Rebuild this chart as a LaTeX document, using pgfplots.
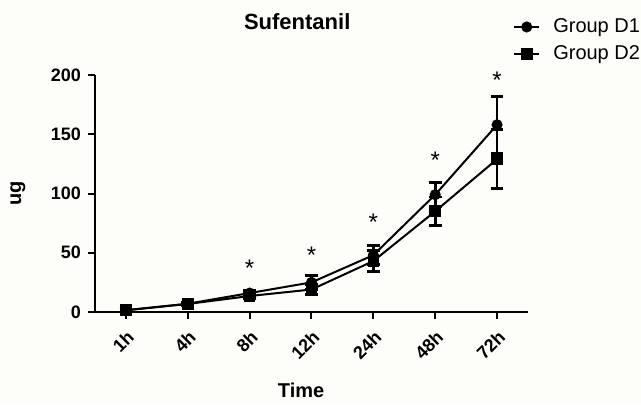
\documentclass[border=0pt]{standalone}
\usepackage{pgfplots}
\pgfplotsset{compat=1.18}
\usepackage{fontspec}
\setmainfont{Liberation Sans}
\definecolor{bgc}{RGB}{253,253,250}

\pgfplotstableread{
x  y    err
0  1.5  1
1  7    1
2  16   2
3  25   6
4  48   8
5  99   10
6  158  24
}\groupone
\pgfplotstableread{
x  y    err
0  1.5  1
1  6.8  1
2  13.5 2
3  19   4
4  43   9
5  85   12
6  129  25
}\grouptwo
\pgfplotstableread{
x  y
2  37
3  48
4  76
5  128
6  196
}\stars

\begin{document}
\begin{tikzpicture}
\path[use as bounding box, fill=bgc] (-47.5pt,-46pt) rectangle (273pt,156pt);
\begin{axis}[
  scale only axis,
  width=216.5pt, height=118.5pt,
  xmin=-0.5, xmax=6.5,
  ymin=0, ymax=200,
  axis x line*=bottom, axis y line*=left,
  axis line style={line width=1pt},
  every tick/.style={black, line width=1pt},
  tick align=outside,
  major tick length=3.5pt,
  xtick=data,
  xticklabels={1h,4h,8h,12h,24h,48h,72h},
  ytick={0,50,...,200},
  /pgf/number format/assume math mode=true,
  tick label style={font=\fontsize{9}{10}\selectfont\bfseries},
  x tick label style={rotate=45, anchor=north east},
  title={Sufentanil},
  title style={font=\fontsize{11}{12}\selectfont\bfseries, at={(0.467,1)}, anchor=center, yshift=20.5pt},
  xlabel={Time},
  xlabel style={font=\fontsize{10}{12}\selectfont\bfseries, at={(axis description cs:0.476,0)}, anchor=center, yshift=-39pt},
  ylabel={ug},
  ylabel style={font=\fontsize{10}{12}\selectfont\bfseries, at={(axis description cs:-0.178,0.5)}, anchor=center},
  legend style={draw=none, fill=none, at={(0.965,1.257)}, anchor=north west,
    font=\fontsize{10}{12}\selectfont, row sep=1pt, inner sep=0pt,
    /tikz/every odd column/.append style={column sep=4.5pt}},
  legend cell align=left,
  legend image code/.code={\draw[mark repeat=2,mark phase=2] plot coordinates {(0cm,0cm)(0.22cm,0cm)(0.44cm,0cm)};},
  clip=false,
]
\addplot[black, line width=1pt, mark=*, mark size=2.25pt,
  error bars/.cd, y dir=both, y explicit,
  error bar style={line width=1.4pt},
  error mark options={rotate=90, mark size=3.2pt, line width=1.4pt}]
  table[x=x, y=y, y error=err] {\groupone};
\addlegendentry{Group D1}
\addplot[black, line width=1pt, mark=square*, mark size=2.4pt,
  error bars/.cd, y dir=both, y explicit,
  error bar style={line width=1.4pt},
  error mark options={rotate=90, mark size=3.2pt, line width=1.4pt}]
  table[x=x, y=y, y error=err] {\grouptwo};
\addlegendentry{Group D2}
\addplot[draw=none, mark=none, nodes near coords={*},
  every node near coord/.style={anchor=center, font=\fontsize{12}{12}\selectfont}]
  table[x=x, y=y] {\stars};
\end{axis}
\end{tikzpicture}
\end{document}
